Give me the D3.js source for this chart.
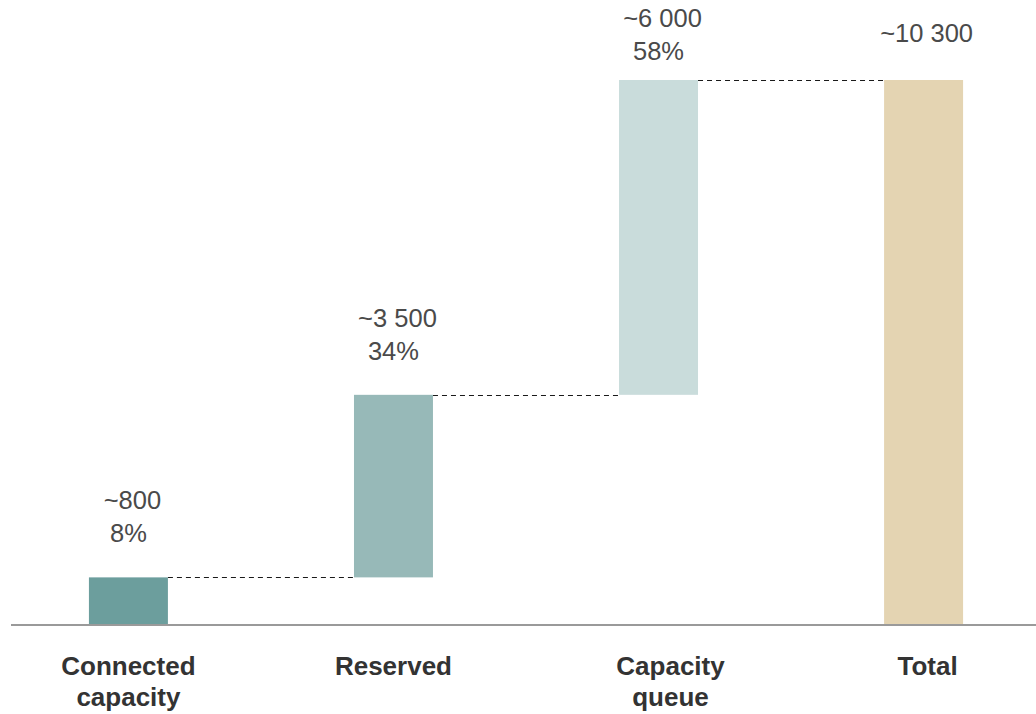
<!DOCTYPE html>
<html>
<head>
<meta charset="utf-8">
<script src="https://cdn.jsdelivr.net/npm/d3@7"></script>
<style>
  html, body { margin: 0; padding: 0; background: #fff; }
  svg { display: block; font-family: "Liberation Sans", Arial, sans-serif; }
</style>
</head>
<body>
<svg width="1036" height="714"></svg>
<script>
// waterfall data
const categories = ["Connected capacity", "Reserved", "Capacity queue", "Total"];
const labelLines = [["Connected", "capacity"], ["Reserved"], ["Capacity", "queue"], ["Total"]];
const steps = [900, 3450, 5950];          // bar heights
const totalValue = 10300;
const valueLabels = ["~800", "~3 500", "~6 000", "~10 300"];
const shareLabels = ["8%", "34%", "58%", null];
const colors = ["#6c9e9d", "#97b9b8", "#c9dcdb", "#e4d4b2"];

const svg = d3.select("svg");

const xScale = d3.scaleBand()
    .domain(categories)
    .range([11, 1041])
    .paddingInner(0.702)
    .paddingOuter(0.294);

const yScale = d3.scaleLinear()
    .domain([0, totalValue])
    .range([625, 80]);

// build start/end for each bar
let running = 0;
const bars = categories.map((c, i) => {
    if (i < steps.length) {
        const d = {cat: c, start: running, end: running + steps[i], i};
        running += steps[i];
        return d;
    }
    return {cat: c, start: 0, end: totalValue, i};
});

// connectors
svg.selectAll(".connector")
    .data(bars.slice(0, -1))
    .enter()
    .append("line")
    .attr("class", "connector")
    .attr("x1", d => xScale(d.cat) + xScale.bandwidth())
    .attr("x2", d => xScale(categories[d.i + 1]))
    .attr("y1", d => Math.round(yScale(d.end)) + 0.5)
    .attr("y2", d => Math.round(yScale(d.end)) + 0.5)
    .attr("stroke", "#1a1a1a")
    .attr("stroke-width", 1.2)
    .attr("stroke-dasharray", "5,4");

svg.selectAll(".bar")
    .data(bars)
    .enter()
    .append("rect")
    .attr("class", "bar")
    .attr("x", d => xScale(d.cat))
    .attr("width", xScale.bandwidth())
    .attr("y", d => yScale(d.end))
    .attr("height", d => yScale(d.start) - yScale(d.end))
    .attr("fill", (d, i) => colors[i]);

// baseline
svg.append("line")
    .attr("x1", 11)
    .attr("x2", 1036)
    .attr("y1", yScale(0))
    .attr("y2", yScale(0))
    .attr("stroke", "#9a9a9a")
    .attr("stroke-width", 2);

// value labels
const gap = 35;
bars.forEach((d, i) => {
    const cx = xScale(d.cat) + xScale.bandwidth() / 2;
    const top = yScale(d.end);
    const g = svg.append("g")
        .attr("fill", "#4a4a4a")
        .attr("font-size", "25.5px")
        .attr("text-anchor", "middle");
    if (shareLabels[i]) {
        let second = top - gap;
        let first = second - 33;
        if (first < 27) { first = 27; second = 60; }
        g.append("text").attr("x", cx + 4).attr("y", first).text(valueLabels[i]);
        g.append("text").attr("x", cx).attr("y", second).text(shareLabels[i]);
    } else {
        g.append("text").attr("x", cx + 3).attr("y", top - 38).text(valueLabels[i]);
    }
});

// category labels
svg.selectAll(".cat-label")
    .data(bars)
    .enter()
    .append("text")
    .attr("class", "cat-label")
    .attr("text-anchor", "middle")
    .attr("font-size", "26px")
    .attr("font-weight", "bold")
    .attr("fill", "#333")
    .attr("x", d => xScale(d.cat) + xScale.bandwidth() / 2)
    .attr("y", 675)
    .each(function(d, i) {
        const t = d3.select(this);
        // the last two labels sit a little right of their bars in the original
        const cx = xScale(d.cat) + xScale.bandwidth() / 2 + (i === 2 ? 12 : i === 3 ? 4 : 0);
        labelLines[i].forEach((line, j) => {
            t.append("tspan")
                .attr("x", cx)
                .attr("dy", j === 0 ? 0 : 31)
                .text(line);
        });
    });
</script>
</body>
</html>
